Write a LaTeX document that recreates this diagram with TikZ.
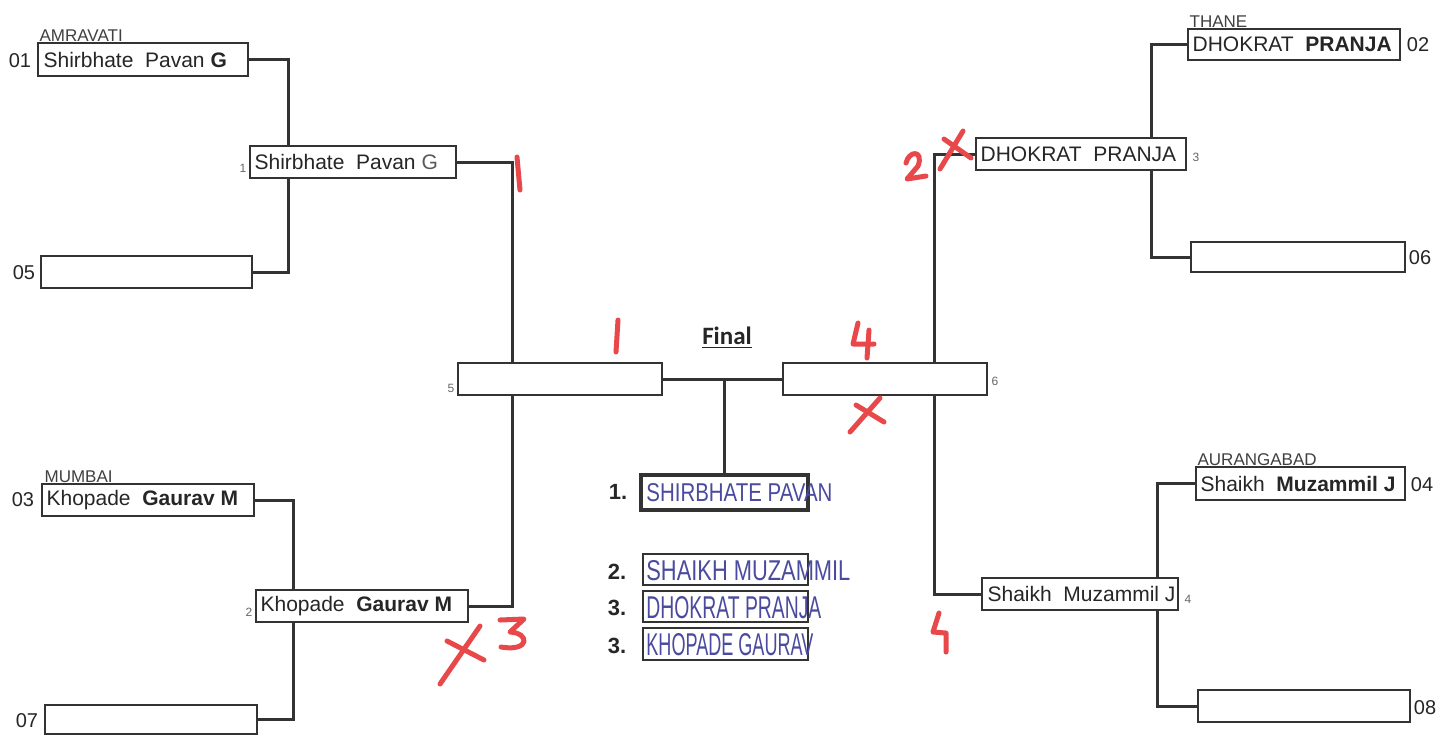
\documentclass[tikz,border=0pt]{standalone}
\usepackage{fontspec}
\setmainfont{Liberation Sans}
\newfontfamily\finalfont{Carlito}
\newfontfamily\handfont{Liberation Sans}
\usepackage{graphicx}
\definecolor{linec}{HTML}{333333}
\definecolor{handc}{HTML}{4A4A9E}
\definecolor{redc}{HTML}{E8484A}
\newcommand\handtext[3]{\resizebox{#1}{#2}{\handfont #3}}
\begin{document}
\begin{tikzpicture}[x=0.5pt,y=-0.5pt,
 box/.style={draw=linec, line width=0.8pt, fill=white, minimum width=#1*0.5pt, minimum height=16pt, inner sep=0pt},
 br/.style={draw=linec, line width=1.5pt},
 nametext/.style={anchor=west, inner sep=0pt, font=\fontsize{10.5}{12}\selectfont, text=black!85},
 seed/.style={font=\fontsize{10}{12}\selectfont, inner sep=0pt, text=black!85},
 smallnum/.style={font=\fontsize{6}{7}\selectfont, text=black!60, inner sep=0pt},
 region/.style={anchor=south west, font=\fontsize{8.5}{10}\selectfont, inner sep=0pt, text=black!75},
 res/.style={draw=linec, line width=1pt, minimum width=#1*0.5pt, minimum height=15.5pt, inner sep=0pt, fill=white},
 rank/.style={font=\bfseries\fontsize{11}{13}\selectfont, inner sep=0pt, text=black!85},
 hand/.style={anchor=west, inner sep=0pt, text=handc},
 redmark/.style={draw=redc, line width=2.5pt, line cap=round, line join=round}]
\useasboundingbox[fill=white] (0,0) rectangle (1439,736);

% coordinates of boxes
\path
 (143,59.5) coordinate (c01)
 (146.5,272) coordinate (c05)
 (148,500) coordinate (c03)
 (151,719.5) coordinate (c07)
 (353,162) coordinate (cr1)
 (362,606) coordinate (cr2)
 (560,379) coordinate (cr5)
 (885,379) coordinate (cr6)
 (1081,154) coordinate (cr3)
 (1080,594) coordinate (cr4)
 (1294,44.5) coordinate (c02)
 (1298,257) coordinate (c06)
 (1300.5,483.5) coordinate (c04)
 (1304,706) coordinate (c08);

% invisible nodes to get anchors
\node[box=210, draw=none, fill=none, minimum height=16.5pt] (b01) at (c01) {};
\node[box=211, draw=none, fill=none] (b05) at (c05) {};
\node[box=212, draw=none, fill=none] (b03) at (c03) {};
\node[box=212, draw=none, fill=none, minimum height=14.5pt] (b07) at (c07) {};
\node[box=206, draw=none, fill=none] (r1) at (cr1) {};
\node[box=212, draw=none, fill=none] (r2) at (cr2) {};
\node[box=204, draw=none, fill=none] (r5) at (cr5) {};
\node[box=204, draw=none, fill=none] (r6) at (cr6) {};
\node[box=210, draw=none, fill=none] (r3) at (cr3) {};
\node[box=196, draw=none, fill=none] (r4) at (cr4) {};
\node[box=212, draw=none, fill=none, minimum height=15.5pt] (b02) at (c02) {};
\node[box=214, draw=none, fill=none, minimum height=15pt] (b06) at (c06) {};
\node[box=209, draw=none, fill=none, minimum height=16.5pt] (b04) at (c04) {};
\node[box=212, draw=none, fill=none] (b08) at (c08) {};
\node[res=167, draw=none, fill=none, minimum height=17.5pt] (res1) at (724.5,492.5) {};

% connectors
\draw[br] (b01.east) -- ++(40,0) |- (b05.east);
\draw[br] (b03.east) -- ++(39,0) |- (b07.east);
\draw[br] (r1.east) -- ++(56,0) |- (r2.east);
\draw[br] (b02.west) -- ++(-36,0) |- (b06.west);
\draw[br] (b04.west) -- ++(-38,0) |- (b08.west);
\draw[br] (r3.west) -- ++(-41,0) |- (r4.west);
\draw[br] (r5.east) -- (r6.west);
\draw[br] (res1.north) -- (res1.north |- r5.east);

% visible boxes
\node[box=210, minimum height=16.5pt] (vb01) at (c01) {};
\node[box=211] (vb05) at (c05) {};
\node[box=212] (vb03) at (c03) {};
\node[box=212, minimum height=14.5pt] (vb07) at (c07) {};
\node[box=206] (vr1) at (cr1) {};
\node[box=212] (vr2) at (cr2) {};
\node[box=204] (vr5) at (cr5) {};
\node[box=204] (vr6) at (cr6) {};
\node[box=210] (vr3) at (cr3) {};
\node[box=196] (vr4) at (cr4) {};
\node[box=212, minimum height=15.5pt] (vb02) at (c02) {};
\node[box=214, minimum height=15pt] (vb06) at (c06) {};
\node[box=209, minimum height=16.5pt] (vb04) at (c04) {};
\node[box=212] (vb08) at (c08) {};

% names
\node[nametext] (t01) at ([xshift=3pt]b01.west) {Shirbhate\ \ Pavan \textbf{G}};
\node[nametext] (tr1) at ([xshift=2.5pt]r1.west) {Shirbhate\ \ Pavan {\color{black!65}G}};
\node[nametext] (t03) at ([xshift=2.5pt]b03.west) {Khopade\ \ \textbf{Gaurav M}};
\node[nametext] (tr2) at ([xshift=2.5pt]r2.west) {Khopade\ \ \textbf{Gaurav M}};
\node[nametext] (t02) at ([xshift=2.5pt]b02.west) {DHOKRAT\ \ \textbf{PRANJA}};
\node[nametext] (tr3) at ([xshift=2.5pt]r3.west) {DHOKRAT\ \ PRANJA};
\node[nametext] (t04) at ([xshift=2.5pt]b04.west) {Shaikh\ \ \textbf{Muzammil J}};
\node[nametext] (tr4) at ([xshift=3pt]r4.west) {Shaikh\ \ Muzammil J};

% regions
\node[region] (g01) at ([xshift=1pt]b01.north west) {AMRAVATI};
\node[region] (g02) at ([xshift=1pt]b02.north west) {THANE};
\node[region] (g03) at ([xshift=1.5pt]b03.north west) {MUMBAI};
\node[region] (g04) at ([xshift=1pt]b04.north west) {AURANGABAD};

% seeds
\node[seed] (s01) at (20,61) {01};
\node[seed] (s05) at (24,273) {05};
\node[seed] (s03) at (23,500) {03};
\node[seed] (s07) at (27,721) {07};
\node[seed] (s02) at (1418,45) {02};
\node[seed] (s06) at (1420,258) {06};
\node[seed] (s04) at (1422,485) {04};
\node[seed] (s08) at (1425,708) {08};

% small numbers
\node[smallnum] (n1) at (243,168) {1};
\node[smallnum] (n2) at (249,612) {2};
\node[smallnum] (n5) at (451,388) {5};
\node[smallnum] (n6) at (995,381) {6};
\node[smallnum] (n3) at (1196,157) {3};
\node[smallnum] (n4) at (1188,599) {4};

% final
\node[font=\finalfont\bfseries\fontsize{12.5}{14}\selectfont, text=black!85, inner sep=0pt] (final) at (727,338) {\underline{Final}};

% results
\node[res=167, line width=1.6pt, minimum height=17.5pt] (vres1) at (724.5,492.5) {};
\node[res=165] (res2) at (725.5,569.5) {};
\node[res=165] (res3) at (725.5,606.5) {};
\node[res=165, minimum height=16pt] (res4) at (725.5,644) {};
\node[rank] (k1) at (618,492) {1.};
\node[rank] (k2) at (617,572) {2.};
\node[rank] (k3) at (617,608) {3.};
\node[rank] (k4) at (617,646) {3.};
\node[hand] (h1) at (646,493) {\handtext{93pt}{9pt}{SHIRBHATE PAVAN}};
\node[hand] (h2) at (646,571) {\handtext{102pt}{10pt}{SHAIKH MUZAMMIL}};
\node[hand] (h3) at (646,608) {\handtext{87.5pt}{11pt}{DHOKRAT PRANJA}};
\node[hand] (h4) at (646,645) {\handtext{83.5pt}{11pt}{KHOPADE GAURAV}};

% red marks
\draw[redmark] (517,157) -- (520,190);
\draw[redmark] (618,320) -- (616,352);
\draw[redmark] (858,323) -- (853,344) -- (874,344);
\draw[redmark] (869,330) -- (867,358);
\draw[redmark] (850,432) -- (880,398);
\draw[redmark] (856,405) -- (884,422);
\draw[redmark] (906,163) .. controls (909,150) and (924,150) .. (918,166) -- (907,179) -- (926,176);
\draw[redmark] (940,169) -- (963,131);
\draw[redmark] (944,139) -- (971,158);
\draw[redmark] (440,684) -- (480,626);
\draw[redmark] (447,641) -- (484,660);
\draw[redmark] (500,620) -- (524,619) -- (510,632) .. controls (530,633) and (530,652) .. (501,647);
\draw[redmark] (939,613) -- (933,632) -- (946,633) -- (946,652);
\end{tikzpicture}
\end{document}
